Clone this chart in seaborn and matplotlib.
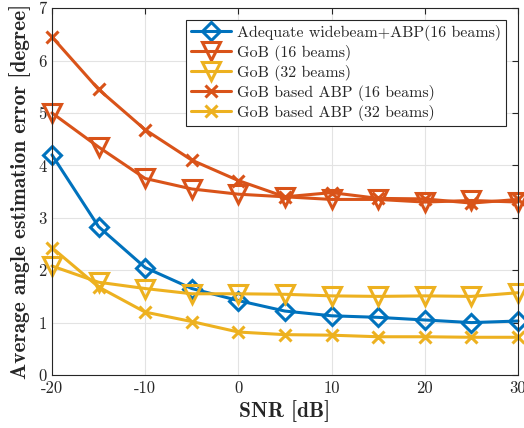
import numpy as np
import pandas as pd
import matplotlib
matplotlib.use("Agg")
import matplotlib.pyplot as plt
import seaborn as sns

snr = [-20, -15, -10, -5, 0, 5, 10, 15, 20, 25, 30]

wide_abp_16 = [4.2, 2.83, 2.05, 1.65, 1.42, 1.22, 1.13, 1.10, 1.05, 1.00, 1.03]
gob_16 = [5.0, 4.35, 3.75, 3.55, 3.45, 3.40, 3.35, 3.35, 3.30, 3.33, 3.30]
gob_32 = [2.08, 1.77, 1.65, 1.55, 1.55, 1.54, 1.51, 1.50, 1.51, 1.50, 1.57]
gob_abp_16 = [6.45, 5.45, 4.68, 4.10, 3.71, 3.40, 3.48, 3.37, 3.36, 3.28, 3.35]
gob_abp_32 = [2.43, 1.68, 1.20, 1.02, 0.82, 0.77, 0.76, 0.73, 0.73, 0.72, 0.72]

labels = [
    "Adequate widebeam+ABP(16 beams)",
    "GoB (16 beams)",
    "GoB (32 beams)",
    "GoB based ABP (16 beams)",
    "GoB based ABP (32 beams)",
]
series = [wide_abp_16, gob_16, gob_32, gob_abp_16, gob_abp_32]
colors = ["#0072BD", "#D95319", "#EDB120", "#D95319", "#EDB120"]
markers = ["D", "v", "v", "x", "x"]
msizes = [9.5, 12.5, 12.5, 9, 9]

sns.set_theme(style="whitegrid")
plt.rcParams["font.family"] = ["cmr10", "DejaVu Serif"]
plt.rcParams["axes.unicode_minus"] = False
plt.rcParams["mathtext.fontset"] = "cm"

fig = plt.figure(figsize=(5.24, 4.28), dpi=100)
ax = fig.add_axes([0.0992, 0.1238, 0.8893, 0.8572])

for lab, vals, c, m, ms in zip(labels, series, colors, markers, msizes):
    df = pd.DataFrame({"SNR": snr, "err": vals})
    sns.lineplot(data=df, x="SNR", y="err", ax=ax, color=c, marker=m,
                 markersize=ms, markerfacecolor="none", markeredgecolor=c,
                 markeredgewidth=2.2, linewidth=2.2, label=lab, clip_on=False)

ax.set_xlim(-20, 30)
ax.set_ylim(0, 7)
ax.set_xticks([-20, -10, 0, 10, 20, 30])
ax.set_yticks(range(0, 8))
ax.grid(True, color="#e3e3e3", linewidth=0.8)
ax.set_facecolor("white")
for s in ax.spines.values():
    s.set_color("#262626")
    s.set_linewidth(0.8)
ax.tick_params(direction="in", length=4, width=0.8, color="#262626",
               top=True, right=True, labelsize=12, labelcolor="#262626", pad=4)
ax.set_xlabel("SNR [dB]", fontsize=15.4, family=["cmb10", "DejaVu Serif"],
              color="#262626", labelpad=3)
ax.set_ylabel("Average angle estimation error [degree]", fontsize=15.4,
              family=["cmb10", "DejaVu Serif"], color="#262626", labelpad=5)

leg = ax.legend(loc="upper right", fontsize=11.5, frameon=True, fancybox=False,
                edgecolor="#262626", framealpha=1, borderaxespad=0.75,
                handlelength=2.5, labelspacing=0.25, borderpad=0.3,
                handletextpad=0.4)
leg.get_frame().set_linewidth(0.8)

fig.savefig("out.png", dpi=100)
